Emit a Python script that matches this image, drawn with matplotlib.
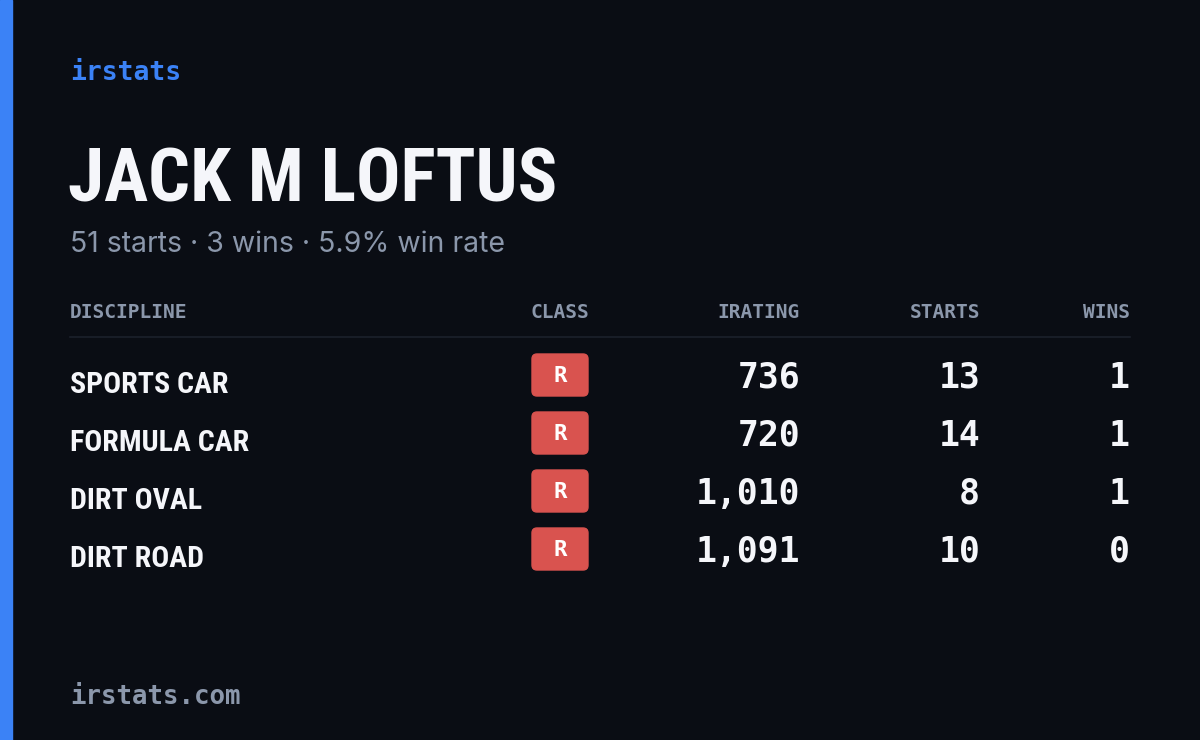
import matplotlib
matplotlib.use("Agg")
import matplotlib.pyplot as plt
from matplotlib.patches import FancyBboxPatch, Rectangle

brand = "irstats"
name = "JACK M LOFTUS"
subtitle = "51 starts · 3 wins · 5.9% win rate"
headers = ["DISCIPLINE", "CLASS", "IRATING", "STARTS", "WINS"]
disciplines = ["SPORTS CAR", "FORMULA CAR", "DIRT OVAL", "DIRT ROAD"]
classes = ["R", "R", "R", "R"]
iratings = [736, 720, 1010, 1091]
starts = [13, 14, 8, 10]
wins = [1, 1, 1, 0]
footer = "irstats.com"

bg = "#0a0d14"
fig = plt.figure(figsize=(12, 7.4), dpi=100, facecolor=bg)
ax = fig.add_axes([0, 0, 1, 1])
ax.set_xlim(0, 1200); ax.set_ylim(740, 0); ax.axis("off")
ax.add_patch(Rectangle((0, 0), 12, 740, color="#3b82f6"))

mono = ["DejaVu Sans Mono"]
cond = ["Liberation Sans Narrow", "Roboto Condensed", "DejaVu Sans"]
grey = "#8b97ab"
ax.text(70, 73, brand, color="#3b82f6", fontsize=19, family=mono, weight="bold", va="center")
ax.text(68, 182, name, color="#f5f6fa", fontsize=53, family=cond, weight="bold", va="center")
ax.text(70, 245, subtitle, color=grey, fontsize=20.5, family=["Inter", "DejaVu Sans"], va="center")

hx = [70, 593, 800, 980, 1130]
ha = ["left", "right", "right", "right", "right"]
for x, h, a in zip(hx, headers, ha):
    if h == "CLASS":
        ax.text(560, 313, h, color=grey, fontsize=14, family=mono, weight="bold", ha="center", va="center")
    else:
        ax.text(x, 313, h, color=grey, fontsize=14, family=mono, weight="bold", ha=a, va="center")
ax.plot([70, 1130], [337, 337], color="#1c212c", lw=1.2)

for i, d in enumerate(disciplines):
    y = 380 + i * 58
    ax.text(70, y + 5, d, color="#f5f6fa", fontsize=21.5, family=cond, weight="bold", va="center")
    ax.add_patch(FancyBboxPatch((532, y - 26), 56, 42, boxstyle="round,pad=0,rounding_size=5",
                                color="#d9534f"))
    ax.text(560, y - 4, classes[i], color="white", fontsize=16, family=mono, weight="bold",
            ha="center", va="center")
    ax.text(800, y - 2, f"{iratings[i]:,}", color="#f5f6fa", fontsize=25, family=mono, weight="bold", ha="right", va="center")
    ax.text(980, y - 2, str(starts[i]), color="#f5f6fa", fontsize=25, family=mono, weight="bold", ha="right", va="center")
    ax.text(1130, y - 2, str(wins[i]), color="#f5f6fa", fontsize=25, family=mono, weight="bold", ha="right", va="center")

ax.text(70, 697, footer, color=grey, fontsize=18.5, family=mono, weight="bold", va="center")
fig.savefig("out.png", dpi=100, facecolor=bg)
